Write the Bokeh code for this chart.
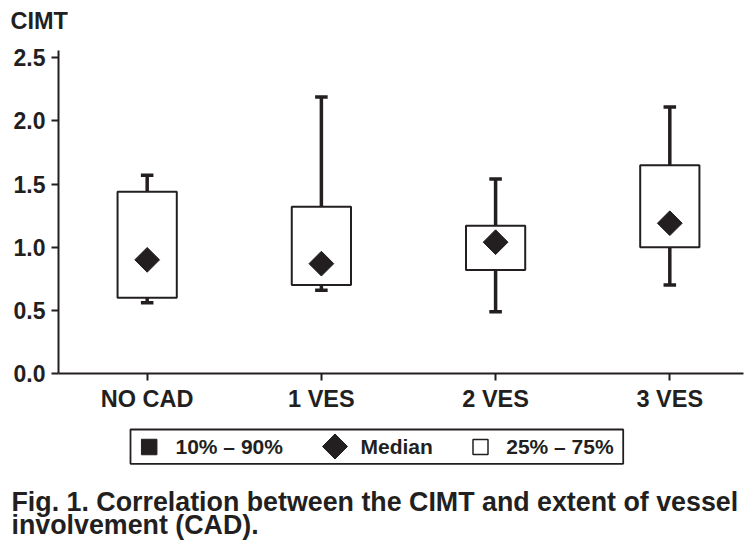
import numpy as np
from bokeh.plotting import figure
from bokeh.models import Range1d, FixedTicker, NumeralTickFormatter, ColumnDataSource
from bokeh.core.properties import value
from bokeh.embed import file_html
from bokeh.resources import INLINE

# ---- data ----
categories = ["NO CAD", "1 VES", "2 VES", "3 VES"]
p10 = [0.56, 0.66, 0.49, 0.70]
p25 = [0.60, 0.70, 0.82, 1.00]
median = [0.90, 0.87, 1.04, 1.19]
p75 = [1.44, 1.32, 1.17, 1.65]
p90 = [1.57, 2.19, 1.54, 2.11]
y_ticks = [0.0, 0.5, 1.0, 1.5, 2.0, 2.5]
y_title = "CIMT"
legend_labels = ["10% \u2013 90%", "Median", "25% \u2013 75%"]
caption_lines = ["Fig. 1. Correlation between the CIMT and extent of vessel",
                 "involvement (CAD)."]

INK = "#231F20"
FONT = "Liberation Sans"
W = 754


def panel(y0, y1):
    """A bare figure whose coordinates are page pixels (y downward)."""
    f = figure(width=W, height=y1 - y0, output_backend="svg",
               toolbar_location=None, title=None,
               x_range=Range1d(0, W), y_range=Range1d(y1, y0),
               x_axis_location=None, y_axis_location=None,
               min_border=0, min_border_left=0, min_border_right=0,
               min_border_top=0, min_border_bottom=0)
    f.grid.visible = False
    f.outline_line_color = None
    f.background_fill_color = "white"
    f.border_fill_color = "white"
    return f


# ---- top strip: axis title ----
H0 = 40
t = panel(0, H0)
t.text(x=[10], y=[20], text=[y_title], text_font=value(FONT),
       text_font_style="bold", text_font_size="23.5px", text_color=INK,
       text_baseline="alphabetic", text_align="left")

# ---- main chart ----
xpos = list(range(1, len(categories) + 1))
box_w = 0.34
cap_w = 0.072

src = ColumnDataSource(dict(
    x=xpos,
    left=[x - box_w / 2 for x in xpos],
    right=[x + box_w / 2 for x in xpos],
    cl=[x - cap_w / 2 for x in xpos],
    cr=[x + cap_w / 2 for x in xpos],
    p10=p10, p25=p25, med=median, p75=p75, p90=p90,
))

H1 = 378
p = figure(width=W, height=H1, output_backend="svg", toolbar_location=None,
           title=None,
           x_range=Range1d(0.491, 4.423), y_range=Range1d(0, 2.558),
           min_border_left=58, min_border_right=11, min_border_top=10,
           min_border_bottom=45)
p.outline_line_color = None
p.xgrid.visible = False
p.ygrid.visible = False
p.background_fill_color = "white"
p.border_fill_color = "white"

# whiskers (10th-90th percentile) and caps
p.segment(x0="x", x1="x", y0="p10", y1="p90", source=src,
          line_color=INK, line_width=3.5)
p.segment(x0="cl", x1="cr", y0="p90", y1="p90", source=src,
          line_color=INK, line_width=3.5)
p.segment(x0="cl", x1="cr", y0="p10", y1="p10", source=src,
          line_color=INK, line_width=3.5)
# interquartile boxes
p.quad(left="left", right="right", bottom="p25", top="p75", source=src,
       fill_color="white", line_color=INK, line_width=2)
# medians
p.scatter(x="x", y="med", source=src, marker="square", angle=np.pi / 4,
          size=17.5, fill_color=INK, line_color=INK)

for ax in (p.xaxis[0], p.yaxis[0]):
    ax.axis_line_color = INK
    ax.axis_line_width = 2
    ax.major_tick_line_color = INK
    ax.major_tick_line_width = 2
    ax.major_tick_in = 0
    ax.major_tick_out = 7
    ax.minor_tick_line_color = None
    ax.major_label_text_font = FONT
    ax.major_label_text_font_style = "bold"
    ax.major_label_text_color = INK

p.yaxis.major_label_text_font_size = "23px"
p.xaxis.major_label_text_font_size = "23.5px"
p.yaxis.ticker = FixedTicker(ticks=y_ticks)
p.yaxis.formatter = NumeralTickFormatter(format="0.0")
p.yaxis.major_label_standoff = 6
p.xaxis.ticker = FixedTicker(ticks=xpos)
p.xaxis.major_label_overrides = {x: c for x, c in zip(xpos, categories)}
p.xaxis.major_label_standoff = 5

# ---- legend + caption strip ----
y_q0 = H0 + H1
q = panel(y_q0, 549)

q.quad(left=[130], right=[622.7], top=[429], bottom=[463.3],
       fill_color=None, line_color=INK, line_width=1.8)
q.scatter(x=[148.7], y=[446.5], marker="square", size=15.5,
          fill_color=INK, line_color=INK)
q.scatter(x=[334.5], y=[446], marker="square", angle=np.pi / 4, size=17.7,
          fill_color=INK, line_color=INK)
q.scatter(x=[480], y=[446.5], marker="square", size=15,
          fill_color="white", line_color=INK, line_width=1.5)
q.text(x=[175, 360, 505.7], y=[446, 446, 446], text=legend_labels,
       text_font=value(FONT), text_font_style="bold", text_font_size="21px",
       text_color=INK, text_baseline="alphabetic", text_align="left")
q.text(x=[11, 11], y=[501, 524.3], text=caption_lines,
       text_font=value(FONT), text_font_style="bold", text_font_size="26.8px",
       text_color=INK, text_baseline="alphabetic", text_align="left")

open("out.html", "w").write(file_html([t, p, q], INLINE))
